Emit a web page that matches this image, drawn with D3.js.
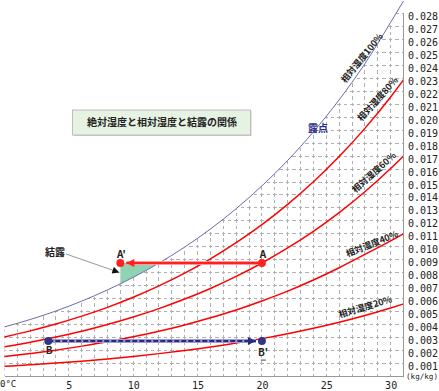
<!DOCTYPE html>
<html>
<head>
<meta charset="utf-8">
<script src="https://cdn.jsdelivr.net/npm/d3@7"></script>
<style>
  body { margin: 0; background: #fff; }
  svg { display: block; }
</style>
</head>
<body>
<svg></svg>
<script>
// Chart data (temperature in °C, absolute humidity in kg/kg)
let temps = [0, 2, 4, 6, 8, 10, 12, 14, 16, 18, 20, 22, 24, 26, 28, 30, 31];
let rh100 = [0.00380, 0.00437, 0.00503, 0.00579, 0.00666, 0.00763, 0.00873, 0.00997, 0.01137, 0.01294, 0.01470, 0.01667, 0.01888, 0.02136, 0.02415, 0.02735, 0.02900];
let rh80 = [0.00302, 0.00349, 0.00402, 0.00463, 0.00531, 0.00609, 0.00697, 0.00795, 0.00906, 0.01031, 0.01170, 0.01327, 0.01502, 0.01697, 0.01915, 0.02158, 0.02290];
let rh60 = [0.00226, 0.00261, 0.00301, 0.00346, 0.00398, 0.00456, 0.00521, 0.00595, 0.00677, 0.00770, 0.00874, 0.00990, 0.01119, 0.01264, 0.01425, 0.01605, 0.01702];
let rh40 = [0.00150, 0.00174, 0.00200, 0.00231, 0.00265, 0.00303, 0.00346, 0.00395, 0.00450, 0.00511, 0.00580, 0.00656, 0.00742, 0.00837, 0.00940, 0.01045, 0.01100];
let rh20 = [0.00075, 0.00087, 0.00100, 0.00115, 0.00132, 0.00151, 0.00173, 0.00197, 0.00224, 0.00255, 0.00289, 0.00327, 0.00369, 0.00416, 0.00468, 0.00526, 0.00557];

// Points A, A', B, B'
let pointA = [20, 0.00874];
let pointA2 = [9, 0.00874];
let pointB = [3.4, 0.0027];
let pointB2 = [20, 0.0027];

// Tick values
let xTicks = [5, 10, 15, 20, 25, 30];
let yTicks = [0.001, 0.002, 0.003, 0.004, 0.005, 0.006, 0.007, 0.008, 0.009, 0.010,
              0.011, 0.012, 0.013, 0.014, 0.015, 0.016, 0.017, 0.018, 0.019, 0.020,
              0.021, 0.022, 0.023, 0.024, 0.025, 0.026, 0.027, 0.028];

// Curve labels
let curveLabels = ['相対湿度100%', '相対湿度80%', '相対湿度60%', '相対湿度40%', '相対湿度20%'];

let width = 439, height = 391;
let jpFont = '"Noto Sans CJK JP", sans-serif';
let monoFont = '"DejaVu Sans Mono", monospace';

let svg = d3.select('svg').attr('width', width).attr('height', height);

let xScale = d3.scaleLinear().domain([0, 31]).range([4.5, 403.5]);
let yScale = d3.scaleLinear().domain([0, 0.029]).range([376, 1]);

function pairs(values) {
    return temps.map((t, i) => [t, values[i]]);
}

let line = d3.line()
    .x(d => xScale(d[0]))
    .y(d => yScale(d[1]))
    .curve(d3.curveMonotoneX);

let defs = svg.append('defs');

// Region under the saturation curve (grid is only drawn there)
defs.append('clipPath').attr('id', 'under-curve')
    .append('path')
    .attr('d', d3.area()
        .x(d => xScale(d[0]))
        .y0(yScale(0) + 1)
        .y1(d => yScale(d[1]))
        .curve(d3.curveMonotoneX)(pairs(rh100)));

// Region above the saturation curve (for the condensation triangle)
defs.append('clipPath').attr('id', 'above-curve')
    .append('path')
    .attr('d', d3.area()
        .x(d => xScale(d[0]))
        .y0(0)
        .y1(d => yScale(d[1]))
        .curve(d3.curveMonotoneX)(pairs(rh100)));

function addArrow(id, color, w, h) {
    defs.append('marker')
        .attr('id', id)
        .attr('viewBox', '0 0 10 10')
        .attr('refX', 10)
        .attr('refY', 5)
        .attr('markerWidth', w)
        .attr('markerHeight', h)
        .attr('markerUnits', 'userSpaceOnUse')
        .attr('orient', 'auto')
        .append('path')
        .attr('d', 'M0,0 L10,5 L0,10 z')
        .attr('fill', color);
}
addArrow('arrow-red', '#ff2020', 9, 8);
addArrow('arrow-blue', '#2a2a80', 9, 8);
addArrow('arrow-black', '#111', 8, 7);

// Dashed grid
let grid = svg.append('g').attr('clip-path', 'url(#under-curve)')
    .attr('stroke', '#b0b0b0')
    .attr('stroke-width', 1)
    .attr('shape-rendering', 'crispEdges');

grid.selectAll('.vgrid')
    .data(d3.range(0, 31))
    .enter()
    .append('line')
    .attr('x1', d => xScale(d))
    .attr('x2', d => xScale(d))
    .attr('y1', yScale(0))
    .attr('y2', yScale(0.0285))
    .attr('stroke-dasharray', '3.5 2.965')
    .attr('stroke-dashoffset', 1.75);

grid.selectAll('.hgrid')
    .data(yTicks)
    .enter()
    .append('line')
    .attr('x1', xScale(0))
    .attr('x2', xScale(31))
    .attr('y1', d => yScale(d))
    .attr('y2', d => yScale(d))
    .attr('stroke-dasharray', '3.5 2.935')
    .attr('stroke-dashoffset', 1.75);

// Condensation triangle
svg.append('rect')
    .attr('clip-path', 'url(#above-curve)')
    .attr('x', xScale(pointA2[0]))
    .attr('y', yScale(pointA2[1]))
    .attr('width', xScale(16) - xScale(pointA2[0]))
    .attr('height', yScale(0) - yScale(pointA2[1]))
    .attr('fill', '#8fd3b3');

// Relative humidity curves
svg.append('path')
    .attr('d', line(pairs(rh100)))
    .attr('fill', 'none')
    .attr('stroke', '#6a6aae')
    .attr('stroke-width', 1);

[rh80, rh60, rh40, rh20].forEach(values => {
    svg.append('path')
        .attr('d', line(pairs(values)))
        .attr('fill', 'none')
        .attr('stroke', '#ff0000')
        .attr('stroke-width', 1.5);
});

// Axis lines
svg.append('line')
    .attr('x1', xScale(0)).attr('x2', xScale(31))
    .attr('y1', yScale(0)).attr('y2', yScale(0))
    .attr('stroke', '#999').attr('shape-rendering', 'crispEdges');
svg.append('line')
    .attr('x1', xScale(31)).attr('x2', xScale(31))
    .attr('y1', yScale(0.028) - 1).attr('y2', yScale(0))
    .attr('stroke', '#999').attr('shape-rendering', 'crispEdges');

// Right axis labels
let yAxis = svg.append('g')
    .attr('transform', `translate(${xScale(31)},0)`)
    .call(d3.axisRight(yScale).tickValues(yTicks).tickSize(0).tickPadding(4.5).tickFormat(d3.format('.3f')));
yAxis.select('.domain').remove();
yAxis.selectAll('text')
    .attr('dy', '0.6em')
    .attr('font-family', monoFont)
    .attr('font-size', 10)
    .attr('fill', '#222');

// Bottom axis labels
let xAxis = svg.append('g')
    .attr('transform', `translate(0,${yScale(0)})`)
    .call(d3.axisBottom(xScale).tickValues(xTicks).tickSize(0).tickPadding(5.5).tickFormat(d => d));
xAxis.select('.domain').remove();
xAxis.selectAll('text')
    .attr('font-family', monoFont)
    .attr('font-size', 10)
    .attr('fill', '#222');

svg.append('text')
    .attr('x', 0).attr('y', 386.5)
    .attr('font-family', monoFont).attr('font-size', 9)
    .attr('fill', '#222')
    .text('0°C');

svg.append('text')
    .attr('x', 406).attr('y', 378.5)
    .attr('font-family', monoFont).attr('font-size', 7.5)
    .attr('textLength', 32)
    .attr('lengthAdjust', 'spacingAndGlyphs')
    .attr('fill', '#222')
    .text('(kg/kg)');

// Arrow A -> A'
svg.append('line')
    .attr('x1', xScale(pointA[0])).attr('x2', xScale(pointA2[0]) + 6)
    .attr('y1', yScale(pointA[1])).attr('y2', yScale(pointA2[1]))
    .attr('stroke', '#ff9a9a').attr('stroke-width', 4);
svg.append('line')
    .attr('x1', xScale(pointA[0])).attr('x2', xScale(pointA2[0]) + 6)
    .attr('y1', yScale(pointA[1])).attr('y2', yScale(pointA2[1]))
    .attr('stroke', '#ff2020').attr('stroke-width', 2)
    .attr('marker-end', 'url(#arrow-red)');

// Arrow B -> B'
svg.append('line')
    .attr('x1', xScale(pointB[0])).attr('x2', xScale(pointB2[0]) - 6)
    .attr('y1', yScale(pointB[1])).attr('y2', yScale(pointB2[1]))
    .attr('stroke', '#9c9cd0').attr('stroke-width', 4);
svg.append('line')
    .attr('x1', xScale(pointB[0])).attr('x2', xScale(pointB2[0]) - 6)
    .attr('y1', yScale(pointB[1])).attr('y2', yScale(pointB2[1]))
    .attr('stroke', '#2a2a80').attr('stroke-width', 2)
    .attr('stroke-dasharray', '5 2')
    .attr('marker-end', 'url(#arrow-blue)');

// Points
svg.selectAll('.pt-red')
    .data([pointA, pointA2])
    .enter()
    .append('circle')
    .attr('cx', d => xScale(d[0]))
    .attr('cy', d => yScale(d[1]))
    .attr('r', 4)
    .attr('fill', '#ff2020');

svg.selectAll('.pt-blue')
    .data([pointB, pointB2])
    .enter()
    .append('circle')
    .attr('cx', d => xScale(d[0]))
    .attr('cy', d => yScale(d[1]))
    .attr('r', 4)
    .attr('fill', '#333388');

// Point labels
function pointLabel(p, txt, dy) {
    svg.append('text')
        .attr('x', xScale(p[0]) + 1)
        .attr('y', yScale(p[1]) + dy)
        .attr('text-anchor', 'middle')
        .attr('font-family', jpFont)
        .attr('font-size', 10)
        .attr('font-weight', 'bold')
        .attr('fill', '#222')
        .text(txt);
}
pointLabel(pointA, 'A', -5);
pointLabel(pointA2, 'A\'', -5);
pointLabel(pointB, 'B', 13);
pointLabel(pointB2, 'B\'', 15);
svg.append('line')
    .attr('x1', xScale(pointB2[0]) - 1).attr('x2', xScale(pointB2[0]) + 4)
    .attr('y1', yScale(pointB2[1]) + 19).attr('y2', yScale(pointB2[1]) + 19)
    .attr('stroke', '#444');

// 結露 annotation
svg.append('text')
    .attr('x', 55).attr('y', 256)
    .attr('text-anchor', 'middle')
    .attr('font-family', jpFont).attr('font-size', 10).attr('font-weight', 'bold')
    .attr('fill', '#222')
    .text('結露');
svg.append('line')
    .attr('x1', 66).attr('y1', 254)
    .attr('x2', xScale(pointA2[0]) - 1).attr('y2', 272.5)
    .attr('stroke', '#999').attr('stroke-width', 1)
    .attr('marker-end', 'url(#arrow-black)');

// 露点 label
svg.append('text')
    .attr('x', 318).attr('y', 132)
    .attr('text-anchor', 'middle')
    .attr('font-family', jpFont).attr('font-size', 10).attr('font-weight', 'bold')
    .attr('fill', '#2c2c8c')
    .text('露点');

// Curve labels
let labelSpots = [[27.78, 0.02459, -51], [29.0, 0.02142, -48], [28.71, 0.01574, -42], [28.55, 0.01021, -22], [28.03, 0.00534, -17]];
curveLabels.forEach((txt, i) => {
    let s = labelSpots[i];
    svg.append('text')
        .attr('transform', `translate(${xScale(s[0])},${yScale(s[1])}) rotate(${s[2]})`)
        .attr('text-anchor', 'middle')
        .attr('dy', '0.35em')
        .attr('font-family', jpFont)
        .attr('font-size', 9)
        .attr('font-weight', 'bold')
        .attr('fill', '#222')
        .text(txt);
});

// Title box
svg.append('rect')
    .attr('x', 73.5).attr('y', 111)
    .attr('width', 178).attr('height', 25)
    .attr('fill', '#c8c8c8');
svg.append('rect')
    .attr('x', 72.5).attr('y', 110)
    .attr('width', 178).attr('height', 25)
    .attr('fill', '#e7f3e2')
    .attr('stroke', '#bdbdbd');
svg.append('text')
    .attr('x', 162).attr('y', 122.5)
    .attr('dy', '0.35em')
    .attr('text-anchor', 'middle')
    .attr('font-family', jpFont).attr('font-size', 10).attr('font-weight', 'bold')
    .attr('fill', '#222')
    .text('絶対湿度と相対湿度と結露の関係');
</script>
</body>
</html>
